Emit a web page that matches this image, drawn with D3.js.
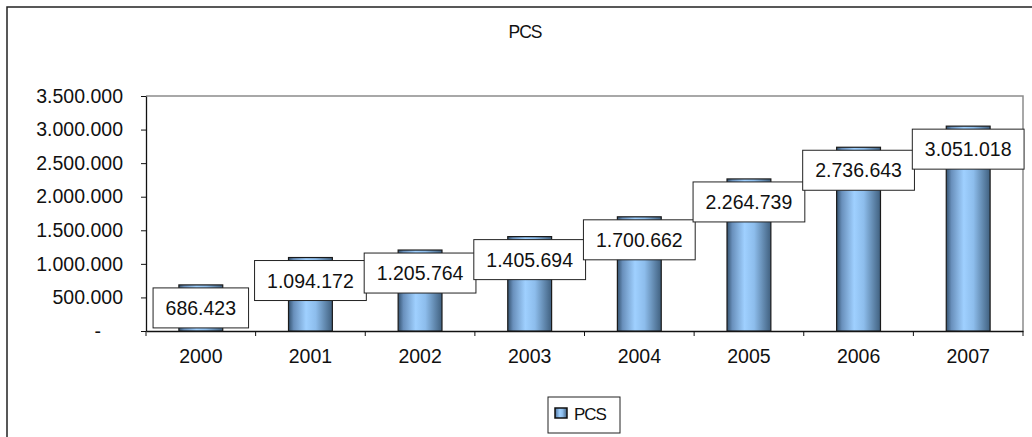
<!DOCTYPE html>
<html>
<head>
<meta charset="utf-8">
<script src="https://cdn.jsdelivr.net/npm/d3@7"></script>
<style>
  body { margin: 0; background: #fff; overflow: hidden; }
  text { font-family: "Liberation Sans", Arial, sans-serif; fill: #111; }
</style>
</head>
<body>
<svg id="canvas"></svg>
<script>
const svg = d3.select("#canvas")
  .attr("width", 1032)
  .attr("height", 437);

// data
const years = ["2000", "2001", "2002", "2003", "2004", "2005", "2006", "2007"];
const pcs = [686423, 1094172, 1205764, 1405694, 1700662, 2264739, 2736643, 3051018];
const yTicks = [0, 500000, 1000000, 1500000, 2000000, 2500000, 3000000, 3500000];

// dotted thousands like the original
const locale = d3.formatLocale({ decimal: ",", thousands: ".", grouping: [3], currency: ["", ""] });
const fmt = locale.format(",d");

// plot area
const plotL = 146, plotR = 1023, plotT = 96, plotB = 331;

const x = d3.scaleBand().domain(years).range([plotL, plotR]);
const y = d3.scaleLinear().domain([0, 3500000]).range([plotB, plotT]);

// outer chart frame (runs off the right and bottom)
svg.append("rect")
  .attr("x", 7).attr("y", 7)
  .attr("width", 1100).attr("height", 500)
  .attr("fill", "none")
  .attr("stroke", "#222")
  .attr("stroke-width", 1.5);

// gradient for the cylinder look
const defs = svg.append("defs");
const grad = defs.append("linearGradient").attr("id", "barGrad")
  .attr("x1", "0%").attr("x2", "100%").attr("y1", "0%").attr("y2", "0%");
[["0%", "#34526f"], ["12%", "#6990bc"], ["40%", "#9fd0ff"], ["62%", "#8dbdec"], ["100%", "#40607f"]]
  .forEach(s => grad.append("stop").attr("offset", s[0]).attr("stop-color", s[1]));

// plot border top / right in grey
svg.append("path")
  .attr("d", `M${plotL},${plotT}H${plotR}V${plotB}`)
  .attr("fill", "none")
  .attr("stroke", "#8c8c8c")
  .attr("stroke-width", 1.5);

// title
svg.append("text")
  .attr("x", 525).attr("y", 38)
  .attr("text-anchor", "middle")
  .style("font-size", "17.5px")
  .style("letter-spacing", "-1px")
  .text("PCS");

// y axis
const yAxis = svg.append("g")
  .attr("transform", `translate(${plotL},0)`)
  .call(d3.axisLeft(y).tickValues(yTicks).tickSizeInner(5).tickSizeOuter(0).tickPadding(18)
    .tickFormat(d => d === 0 ? "-" : fmt(d)));
yAxis.select(".domain").attr("stroke", "#111").attr("stroke-width", 1.3);
yAxis.selectAll(".tick line").attr("stroke", "#111");
yAxis.selectAll(".tick text")
  .style("font-size", "19.5px")
  .attr("fill", "#111")
  .attr("dx", d => d === 0 ? -22 : 0);

// x axis: labels centred, ticks at the band edges
const xAxis = svg.append("g")
  .attr("transform", `translate(0,${plotB})`)
  .call(d3.axisBottom(x).tickSize(0).tickSizeOuter(0).tickPadding(18));
xAxis.select(".domain").attr("stroke", "#111").attr("stroke-width", 1.3);
xAxis.selectAll(".tick text").style("font-size", "19.5px").attr("fill", "#111");
xAxis.selectAll(".edge")
  .data(years.map(d => x(d)).concat([plotR]))
  .join("line")
  .attr("class", "edge")
  .attr("x1", d => d).attr("x2", d => d)
  .attr("y1", 0).attr("y2", 5)
  .attr("stroke", "#111");

// bars
const barW = x.bandwidth() * 0.4;
const bars = svg.append("g").selectAll("g")
  .data(pcs)
  .join("g");

bars.append("rect")
  .attr("x", (d, i) => x(years[i]) + (x.bandwidth() - barW) / 2)
  .attr("y", d => y(d))
  .attr("width", barW)
  .attr("height", d => plotB - y(d))
  .attr("fill", "url(#barGrad)")
  .attr("stroke", "#1a1a1a")
  .attr("stroke-width", 1.2);

// little top cap line
bars.append("line")
  .attr("x1", (d, i) => x(years[i]) + (x.bandwidth() - barW) / 2)
  .attr("x2", (d, i) => x(years[i]) + (x.bandwidth() + barW) / 2)
  .attr("y1", d => y(d) + 4)
  .attr("y2", d => y(d) + 4)
  .attr("stroke", "#2a3a4c")
  .attr("stroke-width", 1);

// value labels in white boxes
const labels = svg.append("g").selectAll("g")
  .data(pcs)
  .join("g")
  .attr("transform", (d, i) => `translate(${x(years[i]) + x.bandwidth() / 2},${y(d) + 3})`);

labels.each(function (d) {
  const g = d3.select(this);
  const t = g.append("text")
    .attr("text-anchor", "middle")
    .attr("y", 27)
    .style("font-size", "19.5px")
    .text(fmt(d));
  const w = t.node().getComputedTextLength() + 25;
  g.insert("rect", "text")
    .attr("x", -w / 2).attr("y", 0)
    .attr("width", w).attr("height", 40)
    .attr("fill", "#fff")
    .attr("stroke", "#222")
    .attr("stroke-width", 1);
});

// legend
const legend = svg.append("g").attr("transform", "translate(548,397)");
legend.append("rect")
  .attr("width", 72).attr("height", 36)
  .attr("fill", "#fff")
  .attr("stroke", "#222")
  .attr("stroke-width", 1);
legend.append("rect")
  .attr("x", 7).attr("y", 11)
  .attr("width", 12).attr("height", 10)
  .attr("fill", "url(#barGrad)")
  .attr("stroke", "#111")
  .attr("stroke-width", 1.5);
legend.append("text")
  .attr("x", 26).attr("y", 23)
  .style("font-size", "17px")
  .style("letter-spacing", "-1px")
  .text("PCS");
</script>
</body>
</html>
